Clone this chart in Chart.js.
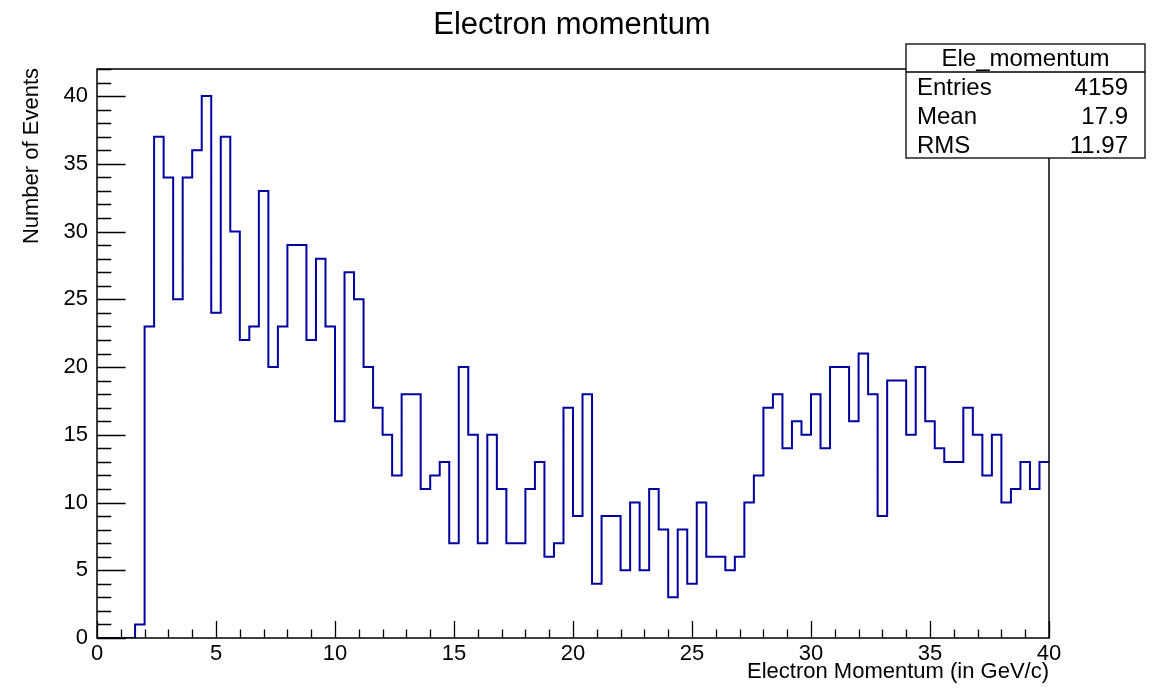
<!DOCTYPE html>
<html>
<head>
<meta charset="utf-8">
<script src="https://cdn.jsdelivr.net/npm/chart.js@4.4.1/dist/chart.umd.min.js"></script>
<style>
  html, body { margin: 0; padding: 0; background: #ffffff; }
  #c { display: block; }
</style>
</head>
<body>
<canvas id="c" width="1163" height="688"></canvas>
<script>
// ---------------- data ----------------
const histName = 'Ele_momentum';
const chartTitle = 'Electron momentum';
const xAxisTitle = 'Electron Momentum (in GeV/c)';
const yAxisTitle = 'Number of Events';
const binLow = 0;
const binWidth = 0.4;
const counts = [
  0, 0, 0, 0, 1, 23, 37, 34, 25, 34,
  36, 40, 24, 37, 30, 22, 23, 33, 20, 23,
  29, 29, 22, 28, 23, 16, 27, 25, 20, 17,
  15, 12, 18, 18, 11, 12, 13, 7, 20, 15,
  7, 15, 11, 7, 7, 11, 13, 6, 7, 17,
  9, 18, 4, 9, 9, 5, 10, 5, 11, 8,
  3, 8, 4, 10, 6, 6, 5, 6, 10, 12,
  17, 18, 14, 16, 15, 18, 14, 20, 20, 16,
  21, 18, 9, 19, 19, 15, 20, 16, 14, 13,
  13, 17, 15, 12, 15, 10, 11, 13, 11, 13
];
const xTickValues = [0, 5, 10, 15, 20, 25, 30, 35, 40];
const yTickValues = [0, 5, 10, 15, 20, 25, 30, 35, 40];
const xRange = [0, 40];
const yRange = [0, 42];
const statsLabels = ['Entries', 'Mean', 'RMS'];
const statsValues = ['4159', '17.9', '11.97'];

// step points: each bin's low edge with its count, closed at the upper edge of the last bin
const stepPoints = counts.map((v, i) => ({ x: binLow + i * binWidth, y: v }));
stepPoints.push({ x: binLow + counts.length * binWidth, y: counts[counts.length - 1] });

const FONT = "'Liberation Sans', Arial, Helvetica, sans-serif";

const rootStyle = {
  id: 'rootStyle',
  afterDraw(chart) {
    const ctx = chart.ctx;
    const a = chart.chartArea;
    const xs = chart.scales.x, ys = chart.scales.y;
    ctx.save();
    ctx.strokeStyle = '#000';
    ctx.fillStyle = '#000';

    // ticks (inward)
    ctx.lineWidth = 1.3;
    ctx.beginPath();
    for (let v = yRange[0]; v <= yRange[1]; v += 1) {
      const py = Math.round(ys.getPixelForValue(v)) + 0.5;
      const len = (v % 5 === 0) ? 28.6 : 14.3;
      ctx.moveTo(a.left, py);
      ctx.lineTo(a.left + len, py);
    }
    for (let v = xRange[0]; v <= xRange[1]; v += 1) {
      const px = Math.round(xs.getPixelForValue(v)) + 0.5;
      const len = (v % 5 === 0) ? 17 : 8.5;
      ctx.moveTo(px, a.bottom);
      ctx.lineTo(px, a.bottom - len);
    }
    ctx.stroke();

    // frame
    ctx.lineWidth = 1.5;
    ctx.strokeRect(a.left, a.top, a.right - a.left, a.bottom - a.top);

    // main title
    ctx.font = '31px ' + FONT;
    ctx.textAlign = 'center';
    ctx.textBaseline = 'alphabetic';
    ctx.fillText(chartTitle, 572, 34);

    // x axis title
    ctx.font = '22px ' + FONT;
    ctx.textAlign = 'right';
    ctx.fillText(xAxisTitle, a.right, 678);

    // y axis title
    ctx.save();
    ctx.translate(37.5, a.top - 1);
    ctx.rotate(-Math.PI / 2);
    ctx.textAlign = 'right';
    ctx.font = '22px ' + FONT;
    ctx.fillText(yAxisTitle, 0, 0);
    ctx.restore();

    // stats box
    const bx = 906, by = 44, bw = 239, bh = 114;
    ctx.fillStyle = '#fff';
    ctx.fillRect(bx, by, bw, bh);
    ctx.lineWidth = 1.3;
    ctx.strokeRect(bx, by, bw, bh);
    ctx.beginPath();
    ctx.moveTo(bx, 72);
    ctx.lineTo(bx + bw, 72);
    ctx.stroke();
    ctx.fillStyle = '#000';
    ctx.font = '24px ' + FONT;
    ctx.textAlign = 'center';
    ctx.fillText(histName, bx + bw / 2, 66);
    const rowBase = [94.5, 124, 152.5];
    statsLabels.forEach((lab, i) => {
      ctx.textAlign = 'left';
      ctx.fillText(lab, 917, rowBase[i]);
      ctx.textAlign = 'right';
      ctx.fillText(statsValues[i], 1128, rowBase[i]);
    });
    ctx.restore();
  }
};

new Chart(document.getElementById('c'), {
  type: 'line',
  data: {
    datasets: [{
      label: histName,
      data: stepPoints,
      stepped: 'before',
      borderColor: '#0000a0',
      borderWidth: 2,
      pointRadius: 0,
      fill: false,
      tension: 0
    }]
  },
  options: {
    responsive: false,
    devicePixelRatio: 1,
    animation: false,
    events: [],
    layout: { padding: { left: 0, top: 69, right: 114, bottom: 0 } },
    plugins: {
      legend: { display: false },
      title: { display: false },
      tooltip: { enabled: false }
    },
    scales: {
      x: {
        type: 'linear',
        min: xRange[0],
        max: xRange[1],
        grid: { display: false, drawTicks: false },
        border: { display: false },
        afterBuildTicks: (s) => { s.ticks = xTickValues.map(v => ({ value: v })); },
        afterFit: (s) => { s.height = 50; },
        ticks: {
          color: '#000',
          padding: 3,
          maxRotation: 0,
          autoSkip: false,
          font: { family: FONT, size: 22 },
          callback: (v) => String(v)
        }
      },
      y: {
        type: 'linear',
        min: yRange[0],
        max: yRange[1],
        grid: { display: false, drawTicks: false },
        border: { display: false },
        afterBuildTicks: (s) => { s.ticks = yTickValues.map(v => ({ value: v })); },
        afterFit: (s) => { s.width = 97; },
        ticks: {
          color: '#000',
          padding: 9,
          autoSkip: false,
          font: { family: FONT, size: 22 },
          callback: (v) => String(v)
        }
      }
    }
  },
  plugins: [rootStyle]
});
</script>
</body>
</html>
